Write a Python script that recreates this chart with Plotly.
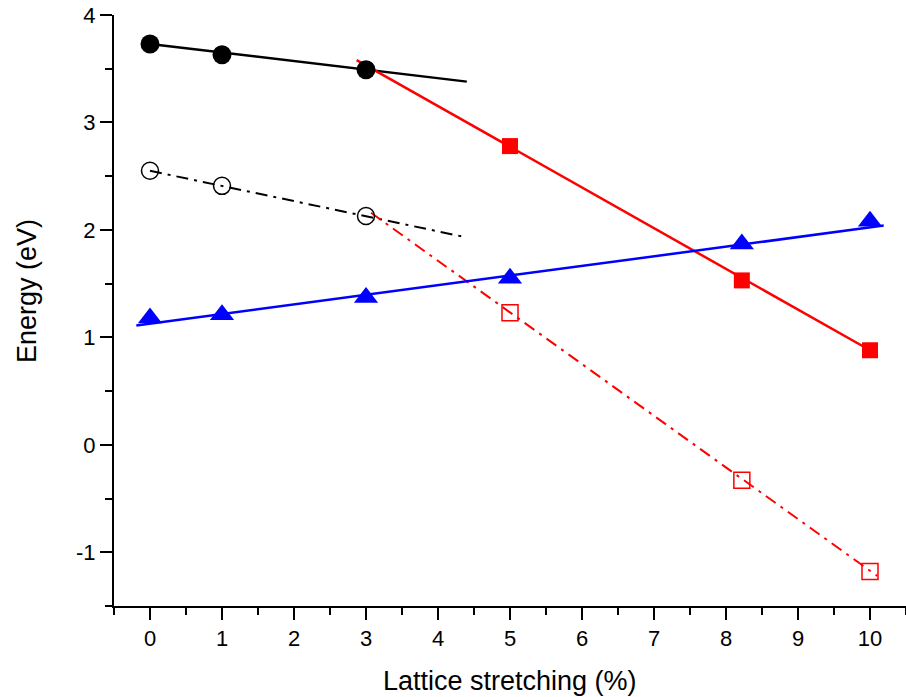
import plotly.graph_objects as go

# ---- data ----
strain_a = [0, 1, 3]
black_filled = [3.73, 3.63, 3.49]
black_open = [2.55, 2.41, 2.13]

strain_b = [5, 8.22, 10]
red_filled = [2.78, 1.53, 0.88]
red_open = [1.23, -0.33, -1.18]

strain_all = [0, 1, 3, 5, 8.22, 10]
blue_tri = [1.18, 1.21, 1.37, 1.55, 1.87, 2.08]

# fitted guide lines (end points)
black_fit_x = [0, 4.4]
black_fit_y = [3.73, 3.38]
black_dd_x = [0, 4.4]
black_dd_y = [2.55, 1.93]
red_fit_x = [2.87, 10]
red_fit_y = [3.58, 0.88]
red_dd_x = [3.07, 10.1]
red_dd_y = [2.16, -1.22]
blue_fit_x = [-0.19, 10.19]
blue_fit_y = [1.11, 2.04]

x_ticks = list(range(0, 11))
x_labels = [str(v) for v in x_ticks]
y_ticks = [-1, 0, 1, 2, 3, 4]
y_labels = ["-1", "0", "1", "2", "3", "4"]

FONT = "Liberation Sans, Arial, sans-serif"
DASHDOT = "12px,6px,3px,6px"

fig = go.Figure()

# lines
fig.add_trace(go.Scatter(x=black_fit_x, y=black_fit_y, mode="lines",
                         line=dict(color="black", width=2.5)))
fig.add_trace(go.Scatter(x=black_dd_x, y=black_dd_y, mode="lines",
                         line=dict(color="black", width=2, dash=DASHDOT)))
fig.add_trace(go.Scatter(x=red_fit_x, y=red_fit_y, mode="lines",
                         line=dict(color="#ff0000", width=2.5)))
fig.add_trace(go.Scatter(x=red_dd_x, y=red_dd_y, mode="lines",
                         line=dict(color="#ff0000", width=2, dash=DASHDOT)))
fig.add_trace(go.Scatter(x=blue_fit_x, y=blue_fit_y, mode="lines",
                         line=dict(color="#0000ff", width=2.5)))

# markers
fig.add_trace(go.Scatter(x=strain_a, y=black_filled, mode="markers",
                         marker=dict(symbol="circle", size=19, color="black")))
fig.add_trace(go.Scatter(x=strain_a, y=black_open, mode="markers",
                         marker=dict(symbol="circle-open", size=17, color="black",
                                     line=dict(width=1.5))))
fig.add_trace(go.Scatter(x=strain_b, y=red_filled, mode="markers",
                         marker=dict(symbol="square", size=16, color="#ff0000")))
fig.add_trace(go.Scatter(x=strain_b, y=red_open, mode="markers",
                         marker=dict(symbol="square-open", size=16, color="#ff0000",
                                     line=dict(width=1.5))))
fig.add_trace(go.Scatter(x=strain_all, y=blue_tri, mode="markers",
                         marker=dict(symbol="triangle-up", size=21, color="#0000ff")))

for tr in fig.data:
    tr.cliponaxis = False

# layout geometry (pixels)
W, H = 906, 697
l, r, t, b = 114, 0, 15, 91
pw, ph = W - l - r, H - t - b

axis_common = dict(ticks="outside", ticklen=12, tickwidth=2, tickcolor="black",
                   showline=True, linewidth=2, linecolor="black",
                   showgrid=False, zeroline=False,
                   tickfont=dict(size=22, family=FONT, color="black"),
                   minor=dict(dtick=0.5, tick0=0, ticks="outside", ticklen=7,
                              tickwidth=2, tickcolor="black", showgrid=False))

fig.update_layout(
    width=W, height=H,
    margin=dict(l=l, r=r, t=t, b=b),
    paper_bgcolor="white", plot_bgcolor="white",
    showlegend=False,
    font=dict(family=FONT, color="black", size=22),
    xaxis=dict(range=[-0.5, 10.5], tickvals=x_ticks, ticktext=x_labels,
               **axis_common),
    yaxis=dict(range=[-1.5, 4], tickvals=y_ticks, ticktext=y_labels,
               **axis_common),
    annotations=[
        dict(text="Lattice stretching (%)", xref="paper", yref="paper",
             x=(510 - l) / pw, y=(H - 681 - b) / ph,
             xanchor="center", yanchor="middle", showarrow=False,
             font=dict(size=27, family=FONT, color="black")),
        dict(text="Energy (eV)", xref="paper", yref="paper",
             x=(27 - l) / pw, y=(H - 291 - b) / ph,
             xanchor="center", yanchor="middle", showarrow=False,
             textangle=-90,
             font=dict(size=27, family=FONT, color="black")),
    ],
)

fig.write_html("out.html")
